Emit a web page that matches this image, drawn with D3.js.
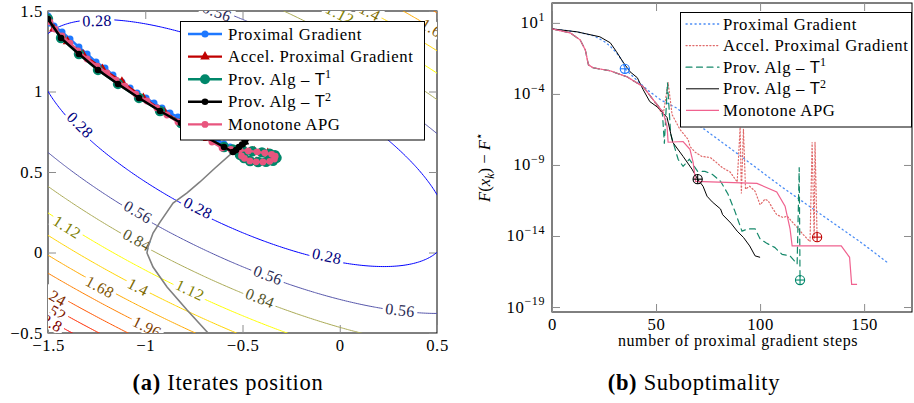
<!DOCTYPE html>
<html>
<head>
<meta charset="utf-8">
<script src="https://cdn.jsdelivr.net/npm/d3@7"></script>
<style>
  body { margin: 0; background: #fff; }
  svg { display: block; }
  text { font-family: "Liberation Serif", "DejaVu Serif", serif; fill: #000; }
</style>
</head>
<body>
<svg id="chart" width="914" height="403" font-family="Liberation Serif, DejaVu Serif, serif"></svg>
<script>
// ---------------- data : panel (a) ----------------
const xTicksA = [-1.5, -1, -0.5, 0, 0.5];
const xTickLabelsA = ["−1.5", "−1", "−0.5", "0", "0.5"];
const yTicksA = [-0.5, 0, 0.5, 1, 1.5];
const yTickLabelsA = ["−0.5", "0", "0.5", "1", "1.5"];

// contour levels of the smooth part and the "hot" colormap stops
const contourLevels = [0.28, 0.56, 0.84, 1.12, 1.4, 1.68, 1.96, 2.24, 2.52, 2.8];
const colormapStops = ["#0000ff", "#ffff00", "#ff8000", "#ff0000"];
// quadratic: a*dx^2 + b*dx*dy + c*dy^2 + d, centred at fCenter
const fCenter = [-0.5, 0.68];
const fCoef = [0.528, 1.0, 1.0, -0.03];

// where labels sit on the contours: [level, x, y]
const contourLabelSpots = [
  [0.28, -1.248, 1.44], [0.28, -1.335, 0.792], [0.28, -0.729, 0.276], [0.28, -0.066, -0.022],
  [0.56, -0.631, 1.494], [0.56, -1.037, 0.252], [0.56, -0.369, -0.14], [0.56, 0.31, -0.357],
  [0.84, -1.042, 0.078], [0.84, -0.41, -0.283],
  [1.12, -1.402, 0.158], [1.12, -0.77, -0.233], [1.12, 0.001, 1.481],
  [1.4, -1.037, -0.214], [1.4, 0.155, 1.494],
  [1.68, -1.233, -0.214], [1.68, 0.49, 1.382],
  [1.96, -0.991, -0.463],
  [2.24, -1.479, -0.264], [2.52, -1.479, -0.357], [2.8, -1.479, -0.438]
];

const grayCurve = [[-0.677,-0.5],[-0.785,-0.357],[-0.888,-0.214],[-0.960,-0.090],[-0.991,-0.003],
  [-0.986,0.034],[-0.960,0.121],[-0.924,0.189],[-0.857,0.307],[-0.785,0.370],[-0.719,0.438],
  [-0.641,0.525],[-0.549,0.624]];

const pgIter = [[-1.5,1.469],[-1.490,1.425],[-1.469,1.407],[-1.428,1.370],[-1.387,1.326],[-1.341,1.276],
  [-1.299,1.233],[-1.253,1.183],[-1.207,1.146],[-1.166,1.102],[-1.120,1.059],[-1.078,1.022],[-1.042,0.991],
  [-0.996,0.960],[-0.955,0.929],[-0.914,0.898],[-0.873,0.866],[-0.832,0.842],[-0.790,0.811],[-0.749,0.780],
  [-0.708,0.755],[-0.667,0.724],[-0.631,0.699],[-0.595,0.674],[-0.564,0.655]];

const apgIter = [[-1.5,1.45],[-1.47,1.39],[-1.40,1.31],[-1.32,1.23],[-1.22,1.14],[-1.12,1.06],[-1.01,0.96],
  [-0.90,0.87],[-0.79,0.79],[-0.68,0.71],[-0.59,0.65],[-0.52,0.638],[-0.44,0.629],[-0.37,0.617],[-0.333,0.600],
  [-0.34,0.578],[-0.38,0.564],[-0.43,0.563],[-0.48,0.578],[-0.505,0.598]];

const t1Iter = [[-1.5,1.45],[-1.433,1.332],[-1.341,1.233],[-1.243,1.134],[-1.140,1.047],[-1.032,0.960],
  [-0.924,0.879],[-0.816,0.804],[-0.708,0.730],[-0.595,0.655],[-0.549,0.640],[-0.500,0.635],[-0.450,0.629],
  [-0.400,0.622],[-0.360,0.614],[-0.333,0.604],[-0.325,0.588],[-0.343,0.570],[-0.379,0.563],[-0.420,0.562],
  [-0.461,0.568],[-0.492,0.587],[-0.513,0.606]];

const t2Iter = [[-1.5,1.45],[-1.433,1.332],[-1.341,1.233],[-1.243,1.134],[-1.140,1.047],[-1.032,0.960],
  [-0.924,0.879],[-0.816,0.804],[-0.708,0.730],[-0.595,0.655],[-0.549,0.624],[-0.533,0.636],[-0.518,0.655],
  [-0.502,0.671],[-0.487,0.686]];

const mapgIter = [[-1.5,1.45],[-1.490,1.432],[-1.464,1.388],[-1.428,1.345],[-1.387,1.301],[-1.346,1.252],
  [-1.299,1.202],[-1.248,1.158],[-1.197,1.115],[-1.150,1.071],[-1.104,1.034],[-1.048,0.984],[-0.991,0.941],
  [-0.940,0.898],[-0.888,0.854],[-0.832,0.811],[-0.770,0.767],[-0.713,0.724],[-0.657,0.686],[-0.605,0.649],
  [-0.560,0.641],[-0.515,0.636],[-0.470,0.631],[-0.425,0.625],[-0.385,0.618],[-0.350,0.610],[-0.332,0.598],
  [-0.336,0.580],[-0.360,0.566],[-0.395,0.562],[-0.430,0.563],[-0.462,0.569],[-0.490,0.585],[-0.505,0.600]];

// ---------------- data : panel (b), values as log10(F(x_k)-F*) ----------------
const xTicksB = [0, 50, 100, 150];
const yTickExpB = [1, -4, -9, -14, -19];

const pgLog = [[0,0.58],[12,0.37],[20,0.1],[25,-0.3],[28,-0.65],[31,-1.1],[34,-1.73],[35,-2.23],[39,-2.79],
  [45.7,-3.7],[52,-4.4],[60,-5.0],[72,-6.36],[90,-8.3],[110,-10.5],[125.5,-12.1],[148,-14.4],[161.5,-15.9]];
const apgLog = [[0,0.58],[8.7,0.3],[13.5,-0.19],[16,-0.9],[17.5,-1.95],[19.7,-2.16],[27.9,-2.37],[36,-2.79],
  [43.8,-3.49],[48.6,-4.4],[53.4,-5.5],[55.8,-3.2],[57.7,-5.45],[61.5,-6.5],[65.4,-7.2],[66.3,-7.7],[68.8,-8.1],
  [72,-8.4],[76,-8.47],[78.4,-8.75],[81.7,-9.17],[85.6,-9.5],[89,-10.2],[90.4,-6.36],[91,-11.0],[92,-6.5],
  [93,-10.7],[95,-10.5],[97.6,-10.85],[100,-11.8],[102.4,-11.4],[104,-11.55],[105.8,-12.0],[108,-12.5],
  [111,-12.7],[113,-12.6],[115.4,-13.0],[117.8,-13.4],[120.7,-13.9],[124,-14.4],[125,-7.4],[126,-14.2],
  [126.4,-7.4],[127.4,-14.08]];
const t1Log = [[0,0.58],[8.7,0.3],[13.5,-0.19],[16,-0.9],[17.5,-1.95],[19.7,-2.16],[27.9,-2.37],[36,-2.79],
  [43.8,-3.49],[48.6,-4.4],[53,-5.2],[54,-7.5],[55.5,-3.2],[57,-6.8],[60.6,-8.6],[63,-9.1],[66,-8.6],[70,-9.45],
  [73.5,-9.45],[77,-9.66],[81,-10.15],[84.6,-11.06],[88,-12.3],[91.3,-13.66],[94,-13.5],[97.6,-13.5],[100,-14.2],
  [103,-14.5],[107,-14.8],[110.6,-15.3],[114.4,-15.4],[117.8,-15.97],[118.8,-9.17],[119.2,-17.1]];
const t2Log = [[0,0.58],[12,0.37],[23,0.02],[28,-0.40],[31,-1.03],[34,-1.73],[37.5,-2.44],[41,-2.86],
  [43.8,-3.70],[47,-4.54],[51,-4.96],[55.3,-5.66],[58,-7.4],[63,-8.4],[67.3,-9.3],[70,-10.0],[72.6,-10.5],
  [74.5,-11.2],[77,-11.6],[81,-12.1],[82,-12.5],[86,-13.1],[89,-13.66],[92,-14.1],[95,-14.7],[97.6,-15.4],[100,-15.5]];
const mapgLog = [[0,0.58],[8.7,0.3],[13.5,-0.19],[16,-0.9],[17.5,-1.95],[19.7,-2.16],[27.9,-2.37],[36,-2.79],
  [43.8,-3.49],[48.6,-4.4],[53.4,-5.3],[55.3,-6.3],[55.8,-7.4],[63,-7.35],[66.3,-7.9],[67.8,-8.8],[69,-10.15],
  [98.5,-10.3],[108,-10.9],[112,-11.9],[114.4,-13.5],[115.4,-14.7],[139,-14.7],[143,-15.5],[144,-17.4],[146.6,-17.4]];
// final iterate markers (oplus)
const stopMarks = [["pg", 35, -2.23], ["t2", 70, -10.0], ["apg", 127.4, -14.08], ["t1", 119.2, -17.1]];

const legendNames = ["Proximal Gradient", "Accel. Proximal Gradient", "Prov. Alg – ", "Prov. Alg – ", "Monotone APG"];
const legendSup = [null, null, "1", "2", null];

// ---------------- styles ----------------
const colA = { pg: "#1e78ff", apg: "#c00000", t1: "#00876a", t2: "#000000", mapg: "#e8557e" };
const colB = { pg: "#4a8cf5", apg: "#e06a6a", t1: "#16896b", t2: "#000000", mapg: "#f0628f" };
const tickCol = "#8c8c8c";
const fontSize = 16.7;
const serif = "Liberation Serif, DejaVu Serif, serif";

const svg = d3.select("#chart");

// ======================= panel (a) =======================
const xA = d3.scaleLinear().domain([-1.5, 0.5]).range([48, 437]);
const yA = d3.scaleLinear().domain([-0.5, 1.5]).range([333, 11]);

const gA = svg.append("g");
gA.append("clipPath").attr("id", "clipA").append("rect")
  .attr("x", xA(-1.5)).attr("y", yA(1.5)).attr("width", xA(0.5) - xA(-1.5)).attr("height", yA(-0.5) - yA(1.5));

// frame + ticks first (pgfplots draws axis below plots)
gA.append("rect").attr("x", xA(-1.5)).attr("y", yA(1.5))
  .attr("width", xA(0.5) - xA(-1.5)).attr("height", yA(-0.5) - yA(1.5))
  .attr("fill", "none").attr("stroke", "#000").attr("stroke-width", 1);

const axStyle = (sel) => {
  sel.attr("font-family", serif);
  sel.select(".domain").remove();
  sel.selectAll(".tick line").attr("stroke", tickCol);
  sel.selectAll(".tick text").style("font-family", serif).style("font-size", fontSize + "px")
    .style("letter-spacing", "0.6px").attr("fill", "#000");
};

gA.append("g").attr("transform", `translate(0,${yA(-0.5)})`)
  .call(d3.axisBottom(xA).tickValues(xTicksA).tickSize(-8).tickPadding(6).tickFormat((d, i) => xTickLabelsA[i]))
  .call(axStyle);
gA.append("g").attr("transform", `translate(0,${yA(1.5)})`)
  .call(d3.axisTop(xA).tickValues(xTicksA).tickSize(-8).tickFormat("")).call(axStyle);
gA.append("g").attr("transform", `translate(${xA(-1.5)},0)`)
  .call(d3.axisLeft(yA).tickValues(yTicksA).tickSize(-8).tickPadding(5).tickFormat((d, i) => yTickLabelsA[i]))
  .call(axStyle);
gA.append("g").attr("transform", `translate(${xA(0.5)},0)`)
  .call(d3.axisRight(yA).tickValues(yTicksA).tickSize(-8).tickFormat("")).call(axStyle);

// ---- contours ----
const fField = (x, y) => {
  const dx = x - fCenter[0], dy = y - fCenter[1];
  return fCoef[0] * dx * dx + fCoef[1] * dx * dy + fCoef[2] * dy * dy + fCoef[3];
};
const gStep = 0.01, gx0 = -2.2, gy0 = -1.2, gnx = 361, gny = 361;
const gridVals = new Array(gnx * gny);
for (let j = 0; j < gny; ++j)
  for (let i = 0; i < gnx; ++i)
    gridVals[j * gnx + i] = fField(gx0 + i * gStep, gy0 + j * gStep);

const contourSet = d3.contours().size([gnx, gny]).thresholds(contourLevels)(gridVals);
const toPx = (u, v) => [xA(gx0 + (u - 0.5) * gStep), yA(gy0 + (v - 0.5) * gStep)];
const contourPath = d3.geoPath(d3.geoTransform({
  point(u, v) { const p = toPx(u, v); this.stream.point(p[0], p[1]); }
}));
const hot = d3.scaleLinear().domain([0, 1 / 3, 2 / 3, 1]).range(colormapStops).interpolate(d3.interpolateRgb);
const levelColor = (lev) => hot(contourLevels.indexOf(lev) / (contourLevels.length - 1));

const plotA = gA.append("g").attr("clip-path", "url(#clipA)");
plotA.append("g").selectAll("path").data(contourSet).enter().append("path")
  .attr("d", contourPath).attr("fill", "none")
  .attr("stroke", d => levelColor(d.value)).attr("stroke-width", 1);

// ---- contour labels: placed at the spot, sloped along the nearest contour piece ----
const labelLayer = plotA.append("g");
contourLabelSpots.forEach(([lev, lx, ly]) => {
  const c = contourSet.find(d => Math.abs(d.value - lev) < 1e-9);
  const tx = xA(lx), ty = yA(ly);
  let best = null;
  c.coordinates.forEach(poly => poly.forEach(ring => {
    const pts = ring.map(([u, v]) => toPx(u, v));
    pts.forEach((p, i) => {
      const d2 = (p[0] - tx) ** 2 + (p[1] - ty) ** 2;
      if (!best || d2 < best.d2) best = { d2, pts, i };
    });
  }));
  const n = best.pts.length, i = best.i;
  const a = best.pts[(i - 5 + n) % n], b = best.pts[(i + 5) % n];
  let ang = Math.atan2(b[1] - a[1], b[0] - a[0]) * 180 / Math.PI;
  if (ang > 90) ang -= 180;
  if (ang < -90) ang += 180;
  const g = labelLayer.append("g")
    .attr("transform", `translate(${tx},${ty}) rotate(${ang})`);
  const t = g.append("text").attr("text-anchor", "middle").attr("dy", "0.34em")
    .style("font-size", "16px").style("letter-spacing", "0.4px")
    .style("fill", d3.interpolateRgb(levelColor(lev), "#000")(0.5))
    .text(String(lev));
  const bb = t.node().getBBox();
  g.insert("rect", "text").attr("x", bb.x - 2.5).attr("y", bb.y + 1).attr("width", bb.width + 5)
    .attr("height", bb.height - 2).attr("fill", "#fff");
});

// ---- gray curve + iterates ----
const lineA = d3.line().x(d => xA(d[0])).y(d => yA(d[1]));
plotA.append("path").attr("d", lineA(grayCurve)).attr("fill", "none")
  .attr("stroke", "#808080").attr("stroke-width", 1.6);

const drawIter = (data, color, width, marker, msize) => {
  const g = plotA.append("g");
  g.append("path").attr("d", lineA(data)).attr("fill", "none").attr("stroke", color)
    .attr("stroke-width", width).attr("stroke-linejoin", "round");
  if (marker === "circle") {
    g.selectAll("circle").data(data).enter().append("circle")
      .attr("cx", d => xA(d[0])).attr("cy", d => yA(d[1])).attr("r", msize).attr("fill", color);
  } else {
    g.selectAll("path.m").data(data).enter().append("path").attr("class", "m")
      .attr("transform", d => `translate(${xA(d[0])},${yA(d[1])})`)
      .attr("d", d3.symbol(d3.symbolTriangle, msize)()).attr("fill", color);
  }
};
drawIter(pgIter, colA.pg, 2.4, "circle", 3.5);
drawIter(apgIter, colA.apg, 2.4, "triangle", 40);
drawIter(t1Iter, colA.t1, 2.6, "circle", 5.2);
drawIter(mapgIter, colA.mapg, 2.4, "circle", 3.4);
drawIter(t2Iter, colA.t2, 2.4, "circle", 3.3);
const lastT2 = t2Iter[t2Iter.length - 1];
plotA.append("path").attr("transform", `translate(${xA(lastT2[0])},${yA(lastT2[1])})`)
  .attr("d", d3.symbol(d3.symbolAsterisk, 50)()).attr("fill", "none").attr("stroke", "#000").attr("stroke-width", 1.3);

// ---- legend (a) ----
const legA = gA.append("g");
legA.append("rect").attr("x", 180.5).attr("y", 21.5).attr("width", 244).attr("height", 118.5)
  .attr("fill", "#fff").attr("stroke", "#000").attr("stroke-width", 1);
const legKeysA = ["pg", "apg", "t1", "t2", "mapg"];
const legMarkA = [["circle", 3.5], ["triangle", 40], ["circle", 5], ["circle", 3.3], ["circle", 3.4]];
legKeysA.forEach((k, i) => {
  const cy = 34 + i * 22.6;
  legA.append("line").attr("x1", 188).attr("x2", 222).attr("y1", cy).attr("y2", cy)
    .attr("stroke", colA[k]).attr("stroke-width", 2.4);
  if (legMarkA[i][0] === "circle")
    legA.append("circle").attr("cx", 205).attr("cy", cy).attr("r", legMarkA[i][1]).attr("fill", colA[k]);
  else
    legA.append("path").attr("transform", `translate(205,${cy})`)
      .attr("d", d3.symbol(d3.symbolTriangle, legMarkA[i][1])()).attr("fill", colA[k]);
  const t = legA.append("text").attr("x", 228).attr("y", cy + 5.5)
    .style("font-size", fontSize + "px").style("letter-spacing", "0.6px").text(legendNames[i]);
  if (legendSup[i]) {
    t.append("tspan").style("font-family", "Liberation Sans, DejaVu Sans, sans-serif").style("letter-spacing", "0").text("T");
    t.append("tspan").attr("dy", -6.5).style("font-size", "12px").text(legendSup[i]);
  }
});

// ---- caption (a) ----
const capA = svg.append("text").attr("x", 228).attr("y", 390).attr("text-anchor", "middle")
  .style("font-size", "22.5px").style("letter-spacing", "0.7px");
capA.append("tspan").style("font-weight", "bold").text("(a)");
capA.append("tspan").text(" Iterates position");

// ======================= panel (b) =======================
const xB = d3.scaleLinear().domain([0, 173]).range([552, 912]);
const yB = d3.scaleLog().domain([Math.pow(10, -19.35), Math.pow(10, 2.4)]).range([312, 3]);
const gB = svg.append("g");
gB.append("clipPath").attr("id", "clipB").append("rect")
  .attr("x", xB(0)).attr("y", 3).attr("width", xB(173) - xB(0)).attr("height", 309);
gB.append("rect").attr("x", xB(0)).attr("y", 3).attr("width", xB(173) - xB(0)).attr("height", 309)
  .attr("fill", "none").attr("stroke", "#000").attr("stroke-width", 1);

gB.append("g").attr("transform", `translate(0,312)`)
  .call(d3.axisBottom(xB).tickValues(xTicksB).tickSize(-8).tickPadding(6).tickFormat(d3.format("d")))
  .call(axStyle);
gB.append("g").attr("transform", `translate(0,3)`)
  .call(d3.axisTop(xB).tickValues(xTicksB).tickSize(-8).tickFormat("")).call(axStyle);
const yTickValsB = yTickExpB.map(e => Math.pow(10, e));
gB.append("g").attr("transform", `translate(${xB(0)},0)`)
  .call(d3.axisLeft(yB).tickValues(yTickValsB).tickSize(-8).tickFormat("")).call(axStyle);
gB.append("g").attr("transform", `translate(${xB(173)},0)`)
  .call(d3.axisRight(yB).tickValues(yTickValsB).tickSize(-8).tickFormat("")).call(axStyle);
yTickExpB.forEach(e => {
  const t = gB.append("text").attr("x", xB(0) - 7).attr("y", yB(Math.pow(10, e)) + 5.5)
    .attr("text-anchor", "end").style("font-size", fontSize + "px").style("letter-spacing", "0.6px");
  t.append("tspan").text("10");
  t.append("tspan").attr("dy", -7.5).style("font-size", "12px").text(e < 0 ? "−" + (-e) : String(e));
});

const plotB = gB.append("g").attr("clip-path", "url(#clipB)");
const lineB = d3.line().x(d => xB(d[0])).y(d => yB(Math.pow(10, d[1])));
const seriesB = [
  [pgLog, colB.pg, 1.3, "1.2,3.3"],
  [apgLog, colB.apg, 1.2, "1.2,2.2"],
  [t1Log, colB.t1, 1.2, "6,4.5"],
  [t2Log, colB.t2, 1.0, null],
  [mapgLog, colB.mapg, 1.2, null]
];
seriesB.forEach(([data, color, w, dash]) => {
  plotB.append("path").attr("d", lineB(data)).attr("fill", "none").attr("stroke", color)
    .attr("stroke-width", w).attr("stroke-dasharray", dash).attr("stroke-linecap", dash ? "round" : "butt");
});
stopMarks.forEach(([k, it, lg]) => {
  const cx = xB(it), cy = yB(Math.pow(10, lg)), r = 4.6;
  const g = plotB.append("g").attr("stroke", colA[k]).attr("stroke-width", 1.1).attr("fill", "none");
  g.append("circle").attr("cx", cx).attr("cy", cy).attr("r", r);
  g.append("line").attr("x1", cx - r).attr("x2", cx + r).attr("y1", cy).attr("y2", cy);
  g.append("line").attr("x1", cx).attr("x2", cx).attr("y1", cy - r).attr("y2", cy + r);
});

// ---- legend (b) ----
const legB = gB.append("g");
legB.append("rect").attr("x", 680.5).attr("y", 12.5).attr("width", 231).attr("height", 114.5)
  .attr("fill", "#fff").attr("stroke", "#000").attr("stroke-width", 1);
seriesB.forEach(([data, color, w, dash], i) => {
  const cy = 24 + i * 21.6;
  legB.append("line").attr("x1", 686).attr("x2", 719).attr("y1", cy).attr("y2", cy)
    .attr("stroke", color).attr("stroke-width", w).attr("stroke-dasharray", dash)
    .attr("stroke-linecap", dash ? "round" : "butt");
  const t = legB.append("text").attr("x", 723).attr("y", cy + 5.5)
    .style("font-size", fontSize + "px").style("letter-spacing", "0.6px").text(legendNames[i]);
  if (legendSup[i]) {
    t.append("tspan").style("font-family", "Liberation Sans, DejaVu Sans, sans-serif").style("letter-spacing", "0").text("T");
    t.append("tspan").attr("dy", -6.5).style("font-size", "12px").text(legendSup[i]);
  }
});

// ---- axis labels (b) ----
gB.append("text").attr("x", 738).attr("y", 346).attr("text-anchor", "middle")
  .style("font-size", "16px").style("letter-spacing", "0.6px").text("number of proximal gradient steps");
const yl = gB.append("text").attr("transform", "translate(490,167) rotate(-90)").attr("text-anchor", "middle")
  .style("font-size", fontSize + "px");
yl.append("tspan").style("font-style", "italic").text("F");
yl.append("tspan").text("(");
yl.append("tspan").style("font-style", "italic").text("x");
yl.append("tspan").attr("dy", 3.5).style("font-style", "italic").style("font-size", "12px").text("k");
yl.append("tspan").attr("dy", -3.5).text(") − ");
yl.append("tspan").style("font-style", "italic").text("F");
yl.append("tspan").attr("dy", -7).style("font-size", "12px").text("⋆");

const capB = svg.append("text").attr("x", 694).attr("y", 390).attr("text-anchor", "middle")
  .style("font-size", "22.5px").style("letter-spacing", "0.7px");
capB.append("tspan").style("font-weight", "bold").text("(b)");
capB.append("tspan").text(" Suboptimality");
</script>
</body>
</html>
